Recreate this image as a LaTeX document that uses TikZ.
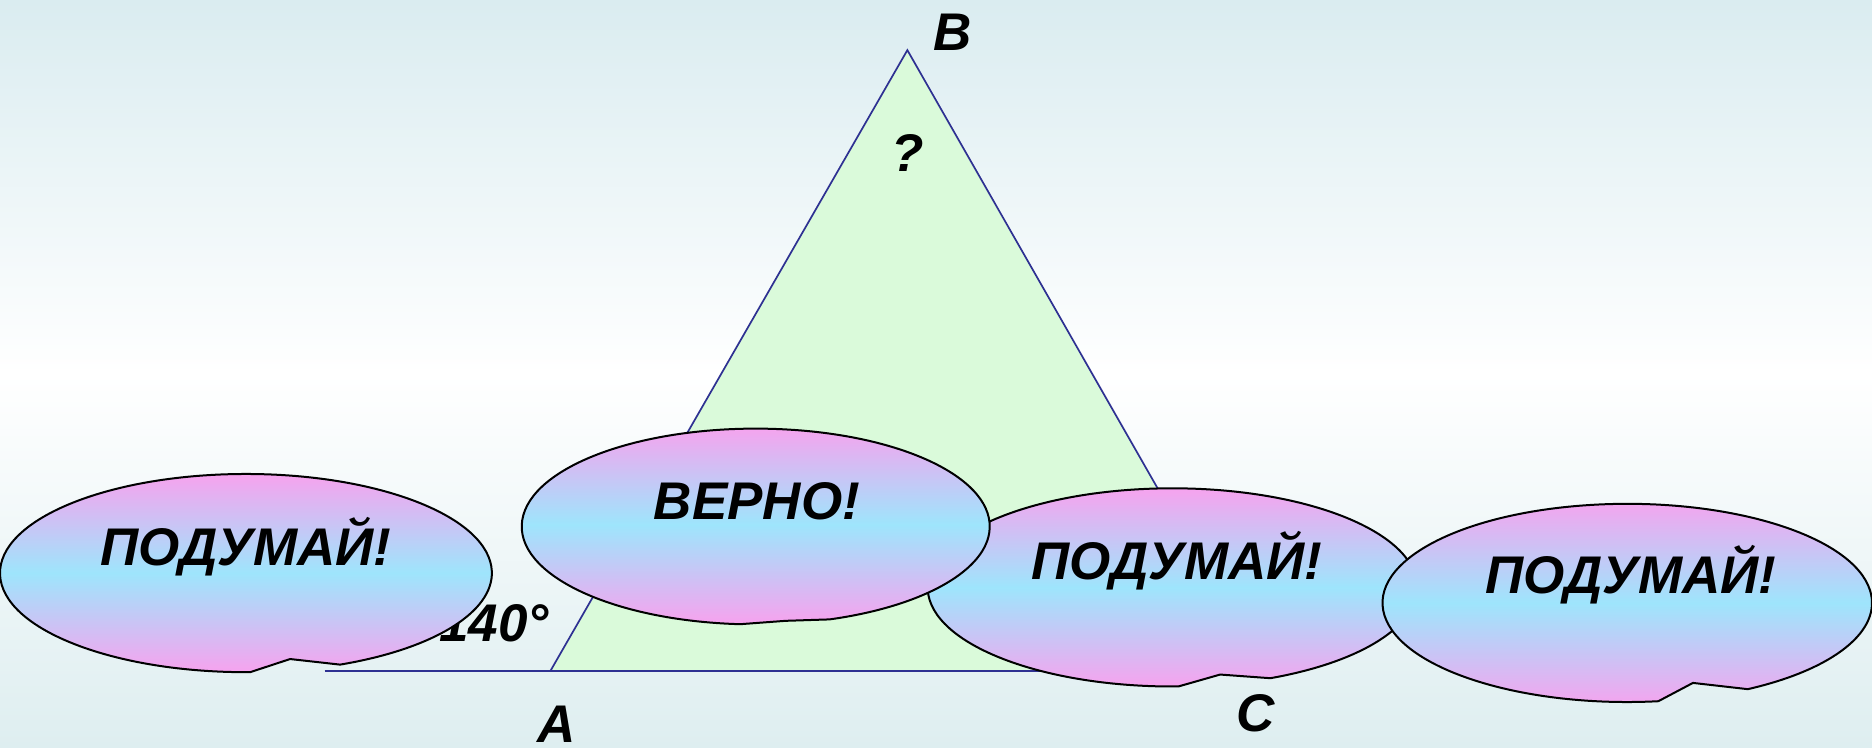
\documentclass[tikz,border=0pt]{standalone}
\usepackage{fontspec}
\setmainfont{Liberation Sans}
\definecolor{bgtop}{RGB}{218,236,240}
\definecolor{bgbot}{RGB}{222,238,240}
\definecolor{trifill}{RGB}{218,250,218}
\definecolor{triline}{RGB}{46,49,146}
\definecolor{bpink}{RGB}{247,162,238}
\definecolor{bcyan}{RGB}{158,229,252}
\tikzset{
  bubble/.style={draw=black, line width=1pt, top color=bpink, bottom color=bpink, middle color=bcyan},
  lbl/.style={font=\fontsize{26.5}{30}\selectfont\bfseries\itshape, inner sep=0pt, anchor=base},
  side/.style={draw=triline, line width=0.85pt}
}
\newcommand\mybubble[8]{%
  \path[bubble] (#1,#2) ++(#5:#3 and #4) arc[start angle=#5, end angle={#6+360}, x radius=#3, y radius=#4] -- (#7,#8) -- cycle;}
\begin{document}
\begin{tikzpicture}[x=0.59694pt, y=-0.59694pt]
\shade[top color=bgtop, bottom color=bgbot, middle color=white] (0,0) rectangle (1568,626);
\useasboundingbox (0,0) rectangle (1568,626);
% triangle
\coordinate (A) at (461,562);
\coordinate (B) at (760,42);
\coordinate (C) at (1057,562);
\coordinate (L) at (272,562);
\fill[trifill] (A) -- (B) -- (C) -- cycle;
\draw[side] (L) -- (C);
\draw[side] (A) -- (B) -- (C);
% labels
\node[lbl] (lA) at (466,622) {A};
\node[lbl] (lB) at (798,42) {B};
\node[lbl] (lC) at (1052,613) {C};
\node[lbl] (q) at (760,144) {?};
\node[lbl] (ang) at (414,537) {140°};
% bubbles
\mybubble{206}{480}{206}{83}{89}{67.5}{243}{552}
\node[lbl] (t1) at (206,474) {ПОДУМАЙ!};
\mybubble{982}{492}{205}{83}{88.6}{66.4}{1022}{565}
\node[lbl] (t3) at (986,485) {ПОДУМАЙ!};
\mybubble{1363}{505}{205}{83}{82.7}{60.5}{1418}{572}
\node[lbl] (t4) at (1366,497) {ПОДУМАЙ!};
\mybubble{633}{441}{196}{82}{93.8}{71.6}{658}{520}
\node[lbl] (t2) at (634,435) {ВЕРНО!};
\end{tikzpicture}
\end{document}
